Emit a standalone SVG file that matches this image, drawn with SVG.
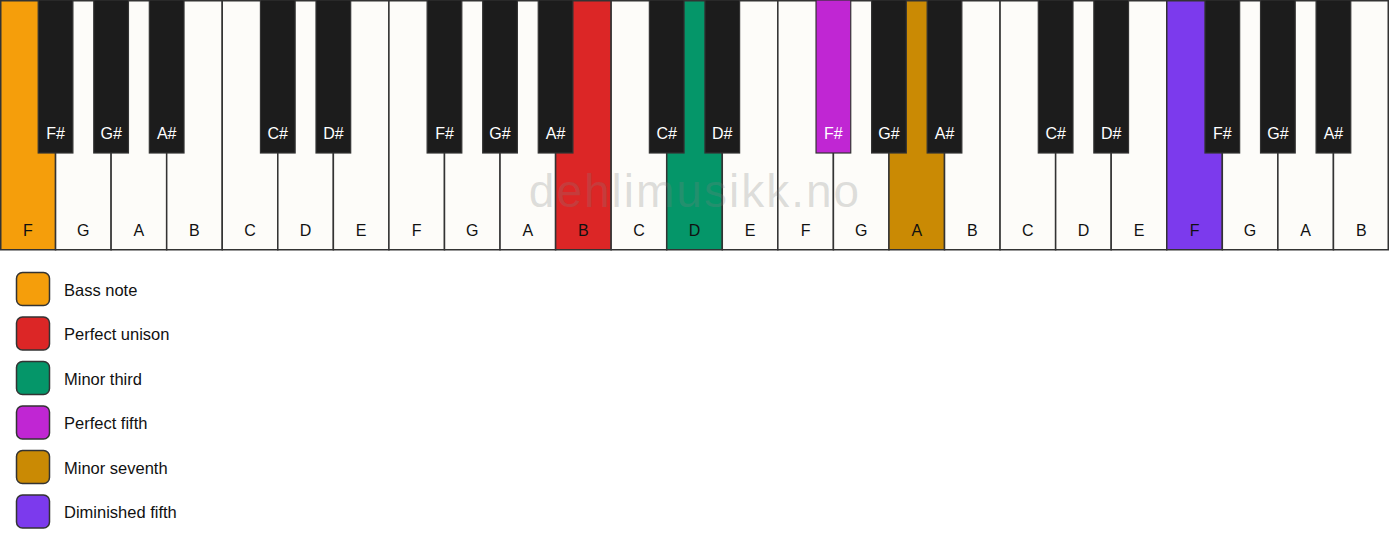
<svg xmlns="http://www.w3.org/2000/svg" width="1389" height="550" viewBox="0 0 1389 550">
<style>
.w{fill:#fdfcf9;stroke:#333;stroke-width:1.5}
.b{fill:#1c1c1c;stroke:#333;stroke-width:1.2}
.wl{font-family:"Liberation Sans",Arial,sans-serif;font-size:16px;fill:#111;text-anchor:middle}
.bl{font-family:"Liberation Sans",Arial,sans-serif;font-size:16px;fill:#fff;text-anchor:middle}
.lg{stroke:#333;stroke-width:1.5}
.lt{font-family:"Liberation Sans",Arial,sans-serif;font-size:16.5px;fill:#111}
.wm{font-family:"Liberation Sans",Arial,sans-serif;font-size:46px;fill:#808080;fill-opacity:0.25;text-anchor:middle;letter-spacing:2px}
</style>
<rect width="1389" height="550" fill="#ffffff"/>
<g id="white-keys">
<rect class="w" x="0.75" y="0.75" width="54.81" height="249" style="fill:#f59e0b"/>
<rect class="w" x="55.56" y="0.75" width="55.56" height="249"/>
<rect class="w" x="111.12" y="0.75" width="55.56" height="249"/>
<rect class="w" x="166.68" y="0.75" width="55.56" height="249"/>
<rect class="w" x="222.24" y="0.75" width="55.56" height="249"/>
<rect class="w" x="277.8" y="0.75" width="55.56" height="249"/>
<rect class="w" x="333.36" y="0.75" width="55.56" height="249"/>
<rect class="w" x="388.92" y="0.75" width="55.56" height="249"/>
<rect class="w" x="444.48" y="0.75" width="55.56" height="249"/>
<rect class="w" x="500.04" y="0.75" width="55.56" height="249"/>
<rect class="w" x="555.6" y="0.75" width="55.56" height="249" style="fill:#dc2626"/>
<rect class="w" x="611.16" y="0.75" width="55.56" height="249"/>
<rect class="w" x="666.72" y="0.75" width="55.56" height="249" style="fill:#059669"/>
<rect class="w" x="722.28" y="0.75" width="55.56" height="249"/>
<rect class="w" x="777.84" y="0.75" width="55.56" height="249"/>
<rect class="w" x="833.4" y="0.75" width="55.56" height="249"/>
<rect class="w" x="888.96" y="0.75" width="55.56" height="249" style="fill:#ca8a04"/>
<rect class="w" x="944.52" y="0.75" width="55.56" height="249"/>
<rect class="w" x="1000.08" y="0.75" width="55.56" height="249"/>
<rect class="w" x="1055.64" y="0.75" width="55.56" height="249"/>
<rect class="w" x="1111.2" y="0.75" width="55.56" height="249"/>
<rect class="w" x="1166.76" y="0.75" width="55.56" height="249" style="fill:#7c3aed"/>
<rect class="w" x="1222.32" y="0.75" width="55.56" height="249"/>
<rect class="w" x="1277.88" y="0.75" width="55.56" height="249"/>
<rect class="w" x="1333.44" y="0.75" width="54.81" height="249"/>
</g>
<text class="wm" x="695" y="207">dehlimusikk.no</text>
<g id="white-labels">
<text class="wl" x="27.78" y="236">F</text>
<text class="wl" x="83.34" y="236">G</text>
<text class="wl" x="138.9" y="236">A</text>
<text class="wl" x="194.46" y="236">B</text>
<text class="wl" x="250.02" y="236">C</text>
<text class="wl" x="305.58" y="236">D</text>
<text class="wl" x="361.14" y="236">E</text>
<text class="wl" x="416.7" y="236">F</text>
<text class="wl" x="472.26" y="236">G</text>
<text class="wl" x="527.82" y="236">A</text>
<text class="wl" x="583.38" y="236">B</text>
<text class="wl" x="638.94" y="236">C</text>
<text class="wl" x="694.5" y="236">D</text>
<text class="wl" x="750.06" y="236">E</text>
<text class="wl" x="805.62" y="236">F</text>
<text class="wl" x="861.18" y="236">G</text>
<text class="wl" x="916.74" y="236">A</text>
<text class="wl" x="972.3" y="236">B</text>
<text class="wl" x="1027.86" y="236">C</text>
<text class="wl" x="1083.42" y="236">D</text>
<text class="wl" x="1138.98" y="236">E</text>
<text class="wl" x="1194.54" y="236">F</text>
<text class="wl" x="1250.1" y="236">G</text>
<text class="wl" x="1305.66" y="236">A</text>
<text class="wl" x="1361.22" y="236">B</text>
</g>
<g id="black-keys">
<rect class="b" x="38.2" y="0" width="34.7" height="153"/>
<rect class="b" x="93.76" y="0" width="34.7" height="153"/>
<rect class="b" x="149.32" y="0" width="34.7" height="153"/>
<rect class="b" x="260.44" y="0" width="34.7" height="153"/>
<rect class="b" x="316" y="0" width="34.7" height="153"/>
<rect class="b" x="427.12" y="0" width="34.7" height="153"/>
<rect class="b" x="482.68" y="0" width="34.7" height="153"/>
<rect class="b" x="538.24" y="0" width="34.7" height="153"/>
<rect class="b" x="649.36" y="0" width="34.7" height="153"/>
<rect class="b" x="704.92" y="0" width="34.7" height="153"/>
<rect class="b" x="816.04" y="0" width="34.7" height="153" style="fill:#c026d3"/>
<rect class="b" x="871.6" y="0" width="34.7" height="153"/>
<rect class="b" x="927.16" y="0" width="34.7" height="153"/>
<rect class="b" x="1038.28" y="0" width="34.7" height="153"/>
<rect class="b" x="1093.84" y="0" width="34.7" height="153"/>
<rect class="b" x="1204.96" y="0" width="34.7" height="153"/>
<rect class="b" x="1260.52" y="0" width="34.7" height="153"/>
<rect class="b" x="1316.08" y="0" width="34.7" height="153"/>
</g>
<g id="black-labels">
<text class="bl" x="55.56" y="139">F#</text>
<text class="bl" x="111.12" y="139">G#</text>
<text class="bl" x="166.68" y="139">A#</text>
<text class="bl" x="277.8" y="139">C#</text>
<text class="bl" x="333.36" y="139">D#</text>
<text class="bl" x="444.48" y="139">F#</text>
<text class="bl" x="500.04" y="139">G#</text>
<text class="bl" x="555.6" y="139">A#</text>
<text class="bl" x="666.72" y="139">C#</text>
<text class="bl" x="722.28" y="139">D#</text>
<text class="bl" x="833.4" y="139">F#</text>
<text class="bl" x="888.96" y="139">G#</text>
<text class="bl" x="944.52" y="139">A#</text>
<text class="bl" x="1055.64" y="139">C#</text>
<text class="bl" x="1111.2" y="139">D#</text>
<text class="bl" x="1222.32" y="139">F#</text>
<text class="bl" x="1277.88" y="139">G#</text>
<text class="bl" x="1333.44" y="139">A#</text>
</g>
<g id="legend">
<g id="legend-bass"><rect class="lg" x="16.5" y="272.5" width="33" height="33" rx="6" fill="#f59e0b"/><text class="lt" x="64" y="295.5">Bass note</text></g>
<g id="legend-unison"><rect class="lg" x="16.5" y="317" width="33" height="33" rx="6" fill="#dc2626"/><text class="lt" x="64" y="340">Perfect unison</text></g>
<g id="legend-minor-third"><rect class="lg" x="16.5" y="361.5" width="33" height="33" rx="6" fill="#059669"/><text class="lt" x="64" y="384.5">Minor third</text></g>
<g id="legend-fifth"><rect class="lg" x="16.5" y="406" width="33" height="33" rx="6" fill="#c026d3"/><text class="lt" x="64" y="429">Perfect fifth</text></g>
<g id="legend-seventh"><rect class="lg" x="16.5" y="450.5" width="33" height="33" rx="6" fill="#ca8a04"/><text class="lt" x="64" y="473.5">Minor seventh</text></g>
<g id="legend-dim-fifth"><rect class="lg" x="16.5" y="495" width="33" height="33" rx="6" fill="#7c3aed"/><text class="lt" x="64" y="518">Diminished fifth</text></g>
</g>
</svg>
